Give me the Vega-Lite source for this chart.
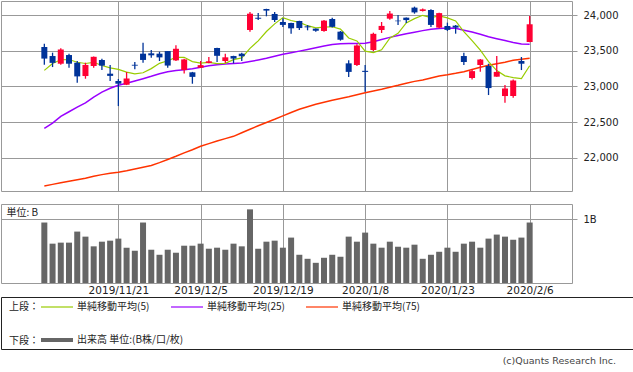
{
  "$schema": "https://vega.github.io/schema/vega-lite/v6.json",
  "padding": 0,
  "background": "white",
  "config": {
    "font": "DejaVu Sans",
    "view": {"stroke": "#999999"},
    "axis": {"gridColor": "#999999", "gridOpacity": 1, "gridWidth": 1, "domain": false, "tickColor": "#999999", "labelColor": "#222222", "labelFont": "DejaVu Sans", "labelFontSize": 10}
  },
  "datasets": {
    "d": [
      {"i":0,"date":"2019/11/8","open":23555,"high":23602,"low":23306,"close":23392,"vol":0.947,"ma5":23226,"ma25":22413,"ma75":21603},
      {"i":1,"date":"2019/11/11","open":23428,"high":23475,"low":23273,"close":23332,"vol":0.616,"ma5":23322,"ma25":22485,"ma75":21625},
      {"i":2,"date":"2019/11/12","open":23320,"high":23536,"low":23306,"close":23520,"vol":0.632,"ma5":23376,"ma25":22580,"ma75":21648},
      {"i":3,"date":"2019/11/13","open":23442,"high":23461,"low":23264,"close":23320,"vol":0.632,"ma5":23379,"ma25":22645,"ma75":21668},
      {"i":4,"date":"2019/11/14","open":23334,"high":23358,"low":23053,"close":23142,"vol":0.805,"ma5":23341,"ma25":22710,"ma75":21690},
      {"i":5,"date":"2019/11/15","open":23147,"high":23334,"low":23109,"close":23303,"vol":0.726,"ma5":23323,"ma25":22770,"ma75":21712},
      {"i":6,"date":"2019/11/18","open":23288,"high":23420,"low":23264,"close":23417,"vol":0.574,"ma5":23340,"ma25":22850,"ma75":21740},
      {"i":7,"date":"2019/11/19","open":23372,"high":23391,"low":23231,"close":23293,"vol":0.647,"ma5":23295,"ma25":22920,"ma75":21762},
      {"i":8,"date":"2019/11/20","open":23180,"high":23302,"low":23077,"close":23149,"vol":0.663,"ma5":23261,"ma25":22975,"ma75":21780},
      {"i":9,"date":"2019/11/21","open":23077,"high":23105,"low":22725,"close":23039,"vol":0.695,"ma5":23240,"ma25":23017,"ma75":21795},
      {"i":10,"date":"2019/11/22","open":23025,"high":23203,"low":23020,"close":23113,"vol":0.553,"ma5":23202,"ma25":23045,"ma75":21815},
      {"i":11,"date":"2019/11/25","open":23305,"high":23344,"low":23241,"close":23293,"vol":0.505,"ma5":23177,"ma25":23077,"ma75":21840},
      {"i":12,"date":"2019/11/26","open":23461,"high":23616,"low":23334,"close":23373,"vol":0.947,"ma5":23193,"ma25":23110,"ma75":21865},
      {"i":13,"date":"2019/11/27","open":23466,"high":23513,"low":23405,"close":23438,"vol":0.521,"ma5":23251,"ma25":23143,"ma75":21890},
      {"i":14,"date":"2019/11/28","open":23461,"high":23489,"low":23358,"close":23409,"vol":0.442,"ma5":23325,"ma25":23180,"ma75":21930},
      {"i":15,"date":"2019/11/29","open":23498,"high":23500,"low":23264,"close":23294,"vol":0.521,"ma5":23361,"ma25":23208,"ma75":21975},
      {"i":16,"date":"2019/12/2","open":23367,"high":23578,"low":23358,"close":23530,"vol":0.474,"ma5":23409,"ma25":23225,"ma75":22020},
      {"i":17,"date":"2019/12/3","open":23231,"high":23391,"low":23184,"close":23380,"vol":0.584,"ma5":23410,"ma25":23236,"ma75":22068},
      {"i":18,"date":"2019/12/4","open":23199,"high":23205,"low":23039,"close":23135,"vol":0.584,"ma5":23350,"ma25":23250,"ma75":22112},
      {"i":19,"date":"2019/12/5","open":23264,"high":23358,"low":23260,"close":23300,"vol":0.616,"ma5":23328,"ma25":23270,"ma75":22160},
      {"i":20,"date":"2019/12/6","open":23330,"high":23414,"low":23325,"close":23354,"vol":0.537,"ma5":23340,"ma25":23290,"ma75":22198},
      {"i":21,"date":"2019/12/9","open":23541,"high":23545,"low":23344,"close":23431,"vol":0.553,"ma5":23320,"ma25":23305,"ma75":22235},
      {"i":22,"date":"2019/12/10","open":23358,"high":23461,"low":23330,"close":23410,"vol":0.521,"ma5":23326,"ma25":23315,"ma75":22268},
      {"i":23,"date":"2019/12/11","open":23428,"high":23432,"low":23325,"close":23392,"vol":0.616,"ma5":23377,"ma25":23322,"ma75":22300},
      {"i":24,"date":"2019/12/12","open":23461,"high":23475,"low":23358,"close":23425,"vol":0.574,"ma5":23402,"ma25":23330,"ma75":22350},
      {"i":25,"date":"2019/12/13","open":23794,"high":24047,"low":23770,"close":24023,"vol":1.153,"ma5":23536,"ma25":23350,"ma75":22400},
      {"i":26,"date":"2019/12/16","open":23967,"high":24033,"low":23935,"close":23952,"vol":0.537,"ma5":23641,"ma25":23372,"ma75":22448},
      {"i":27,"date":"2019/12/17","open":24089,"high":24092,"low":23986,"close":24066,"vol":0.647,"ma5":23772,"ma25":23396,"ma75":22495},
      {"i":28,"date":"2019/12/18","open":24019,"high":24047,"low":23906,"close":23934,"vol":0.663,"ma5":23880,"ma25":23425,"ma75":22540},
      {"i":29,"date":"2019/12/19","open":23906,"high":23958,"low":23836,"close":23865,"vol":0.553,"ma5":23968,"ma25":23452,"ma75":22588},
      {"i":30,"date":"2019/12/20","open":23892,"high":23895,"low":23742,"close":23817,"vol":0.711,"ma5":23927,"ma25":23475,"ma75":22635},
      {"i":31,"date":"2019/12/23","open":23920,"high":23923,"low":23794,"close":23821,"vol":0.442,"ma5":23901,"ma25":23497,"ma75":22680},
      {"i":32,"date":"2019/12/24","open":23845,"high":23864,"low":23789,"close":23831,"vol":0.379,"ma5":23854,"ma25":23520,"ma75":22715},
      {"i":33,"date":"2019/12/25","open":23813,"high":23816,"low":23768,"close":23783,"vol":0.316,"ma5":23823,"ma25":23545,"ma75":22750},
      {"i":34,"date":"2019/12/26","open":23780,"high":23934,"low":23770,"close":23925,"vol":0.395,"ma5":23835,"ma25":23568,"ma75":22778},
      {"i":35,"date":"2019/12/27","open":23948,"high":23967,"low":23827,"close":23838,"vol":0.442,"ma5":23839,"ma25":23590,"ma75":22806},
      {"i":36,"date":"2019/12/30","open":23770,"high":23780,"low":23644,"close":23657,"vol":0.411,"ma5":23807,"ma25":23601,"ma75":22832},
      {"i":37,"date":"2020/1/6","open":23325,"high":23367,"low":23133,"close":23205,"vol":0.726,"ma5":23681,"ma25":23603,"ma75":22857},
      {"i":38,"date":"2020/1/7","open":23302,"high":23592,"low":23288,"close":23576,"vol":0.647,"ma5":23640,"ma25":23604,"ma75":22885},
      {"i":39,"date":"2020/1/8","open":23220,"high":23302,"low":22927,"close":23205,"vol":0.789,"ma5":23496,"ma25":23606,"ma75":22913},
      {"i":40,"date":"2020/1/9","open":23513,"high":23756,"low":23498,"close":23740,"vol":0.616,"ma5":23476,"ma25":23630,"ma75":22937},
      {"i":41,"date":"2020/1/10","open":23794,"high":23906,"low":23752,"close":23851,"vol":0.553,"ma5":23515,"ma25":23660,"ma75":22961},
      {"i":42,"date":"2020/1/14","open":23953,"high":24061,"low":23939,"close":24025,"vol":0.647,"ma5":23679,"ma25":23690,"ma75":22990},
      {"i":43,"date":"2020/1/15","open":23925,"high":24005,"low":23864,"close":23917,"vol":0.568,"ma5":23747,"ma25":23715,"ma75":23017},
      {"i":44,"date":"2020/1/16","open":23967,"high":23970,"low":23892,"close":23933,"vol":0.553,"ma5":23893,"ma25":23740,"ma75":23047},
      {"i":45,"date":"2020/1/17","open":24108,"high":24122,"low":24023,"close":24041,"vol":0.6,"ma5":23953,"ma25":23762,"ma75":23072},
      {"i":46,"date":"2020/1/20","open":24061,"high":24094,"low":24052,"close":24084,"vol":0.379,"ma5":24000,"ma25":23785,"ma75":23092},
      {"i":47,"date":"2020/1/21","open":24075,"high":24084,"low":23836,"close":23865,"vol":0.442,"ma5":23968,"ma25":23805,"ma75":23120},
      {"i":48,"date":"2020/1/22","open":23827,"high":24037,"low":23817,"close":24031,"vol":0.489,"ma5":23991,"ma25":23815,"ma75":23148},
      {"i":49,"date":"2020/1/23","open":23850,"high":23897,"low":23780,"close":23795,"vol":0.553,"ma5":23963,"ma25":23820,"ma75":23165},
      {"i":50,"date":"2020/1/24","open":23855,"high":23864,"low":23742,"close":23827,"vol":0.489,"ma5":23920,"ma25":23817,"ma75":23185},
      {"i":51,"date":"2020/1/27","open":23428,"high":23475,"low":23302,"close":23344,"vol":0.616,"ma5":23772,"ma25":23790,"ma75":23208},
      {"i":52,"date":"2020/1/28","open":23119,"high":23241,"low":23100,"close":23216,"vol":0.647,"ma5":23643,"ma25":23765,"ma75":23240},
      {"i":53,"date":"2020/1/29","open":23302,"high":23386,"low":23208,"close":23379,"vol":0.553,"ma5":23512,"ma25":23735,"ma75":23270},
      {"i":54,"date":"2020/1/30","open":23288,"high":23320,"low":22880,"close":22978,"vol":0.695,"ma5":23349,"ma25":23700,"ma75":23298},
      {"i":55,"date":"2020/1/31","open":23138,"high":23428,"low":23138,"close":23205,"vol":0.758,"ma5":23224,"ma25":23672,"ma75":23320},
      {"i":56,"date":"2020/2/3","open":22866,"high":23020,"low":22772,"close":22972,"vol":0.726,"ma5":23150,"ma25":23645,"ma75":23342},
      {"i":57,"date":"2020/2/4","open":22866,"high":23100,"low":22842,"close":23085,"vol":0.679,"ma5":23124,"ma25":23617,"ma75":23368},
      {"i":58,"date":"2020/2/5","open":23358,"high":23414,"low":23231,"close":23320,"vol":0.711,"ma5":23112,"ma25":23598,"ma75":23382},
      {"i":59,"date":"2020/2/6","open":23625,"high":23991,"low":23620,"close":23874,"vol":0.947,"ma5":23291,"ma25":23593,"ma75":23396}
    ],
    "leg1": [
      {"s": "単純移動平均(5)"},
      {"s": "単純移動平均(25)"},
      {"s": "単純移動平均(75)"}
    ],
    "leg2": [
      {"s": "出来高 単位:(B株/口/枚)"}
    ]
  },
  "spacing": 0,
  "resolve": {
    "scale": {"stroke": "independent", "color": "independent"},
    "legend": {"stroke": "independent", "color": "independent"}
  },
  "vconcat": [
    {
      "spacing": 11,
      "vconcat": [
        {
          "width": 571,
          "height": 190,
          "data": {"name": "d"},
          "encoding": {
            "x": {"field": "i", "type": "quantitative", "title": null,
              "scale": {"domain": [-4.66, 63.54], "nice": false, "zero": false},
              "axis": {"values": [9, 19, 29, 39, 49, 59], "labels": false, "ticks": false, "grid": true, "title": null}}
          },
          "layer": [
            {"mark": {"type": "line", "color": "#ff3300", "strokeWidth": 1.5},
             "encoding": {"y": {"field": "ma75", "type": "quantitative", "title": null,
               "scale": {"domain": [21532, 24201], "nice": false, "zero": false},
               "axis": {"orient": "right", "values": [22000, 22500, 23000, 23500, 24000], "format": ",.0f", "grid": true, "tickSize": 5, "labelPadding": 6, "title": null}}}},
            {"mark": {"type": "line", "color": "#9900ff", "strokeWidth": 1.5},
             "encoding": {"y": {"field": "ma25", "type": "quantitative", "title": null}}},
            {"mark": {"type": "line", "color": "#99cc00", "strokeWidth": 1.2},
             "encoding": {"y": {"field": "ma5", "type": "quantitative", "title": null}}},
            {"mark": {"type": "rule", "strokeWidth": 1.3},
             "encoding": {
               "y": {"field": "low", "type": "quantitative", "title": null},
               "y2": {"field": "high"},
               "color": {"condition": {"test": "datum.close >= datum.open", "value": "#ff0033"}, "value": "#003399"}}},
            {"mark": {"type": "bar", "size": 6},
             "encoding": {
               "y": {"field": "open", "type": "quantitative", "title": null},
               "y2": {"field": "close"},
               "color": {"condition": {"test": "datum.close >= datum.open", "value": "#ff0033"}, "value": "#003399"}}}
          ]
        },
        {
          "width": 571,
          "height": 79,
          "data": {"name": "d"},
          "mark": {"type": "bar", "size": 6, "color": "#666666"},
          "encoding": {
            "x": {"field": "i", "type": "quantitative", "title": null,
              "scale": {"domain": [-4.66, 63.54], "nice": false, "zero": false},
              "axis": {"values": [9, 19, 29, 39, 49, 59], "ticks": false, "grid": true, "labelPadding": 2, "labelFontSize": 10.5, "labelFlush": false, "labelOverlap": false, "title": null,
                "labelExpr": "datum.value == 9 ? '2019/11/21' : datum.value == 19 ? '2019/12/5' : datum.value == 29 ? '2019/12/19' : datum.value == 39 ? '2020/1/8' : datum.value == 49 ? '2020/1/23' : '2020/2/6'"}},
            "y": {"field": "vol", "type": "quantitative",
              "scale": {"domain": [0, 1.237], "nice": false},
              "axis": {"orient": "right", "values": [1], "labelExpr": "'1B'", "grid": true, "tickSize": 5, "labelPadding": 6,
                "title": "単位: B", "titleAngle": 0, "titleX": -566, "titleY": 13, "titleAlign": "left", "titleBaseline": "bottom", "titleFont": "Noto Sans CJK JP", "titleFontSize": 10, "titleFontWeight": "normal", "titleColor": "#222222"}}
          }
        }
      ]
    },
    {
      "width": 632,
      "height": 52,
      "view": {"stroke": "#222222"},
      "title": {"text": "(c)Quants Research Inc.", "orient": "bottom", "anchor": "end", "frame": "group", "offset": 7, "dx": -17, "font": "DejaVu Sans", "fontSize": 9.5, "fontWeight": "normal", "color": "#444444"},
      "layer": [
        {
          "data": {"name": "leg1"},
          "transform": [{"filter": "false"}],
          "mark": {"type": "line"},
          "encoding": {
            "stroke": {"field": "s", "type": "nominal",
              "scale": {"domain": ["単純移動平均(5)", "単純移動平均(25)", "単純移動平均(75)"], "range": ["#99cc00", "#9900ff", "#ff3300"]},
              "legend": {"title": "上段：", "orient": "none", "legendX": 8, "legendY": 4, "direction": "horizontal", "titleOrient": "left", "titleFont": "Noto Sans CJK JP", "titleFontSize": 10, "titleFontWeight": "normal", "titleColor": "#222222", "titlePadding": 2, "labelFont": "Noto Sans CJK JP", "labelFontSize": 10, "labelColor": "#222222", "symbolType": "M-1.2,0H5.2", "symbolSize": 100, "symbolStrokeWidth": 1.2, "labelOffset": 24, "columnPadding": 18, "padding": 0, "labelLimit": 300}
            }
          }
        },
        {
          "data": {"name": "leg2"},
          "transform": [{"filter": "false"}],
          "mark": {"type": "line"},
          "encoding": {
            "color": {"field": "s", "type": "nominal",
              "scale": {"domain": ["出来高 単位:(B株/口/枚)"], "range": ["#666666"]},
              "legend": {"title": "下段：", "orient": "none", "legendX": 8, "legendY": 36, "direction": "horizontal", "titleOrient": "left", "titleFont": "Noto Sans CJK JP", "titleFontSize": 10, "titleFontWeight": "normal", "titleColor": "#222222", "titlePadding": 2, "labelFont": "Noto Sans CJK JP", "labelFontSize": 10, "labelColor": "#222222", "symbolType": "M-1.4,0H5", "symbolSize": 100, "symbolStrokeWidth": 4, "labelOffset": 22, "padding": 0, "labelLimit": 300}
            }
          }
        }
      ]
    }
  ]
}
